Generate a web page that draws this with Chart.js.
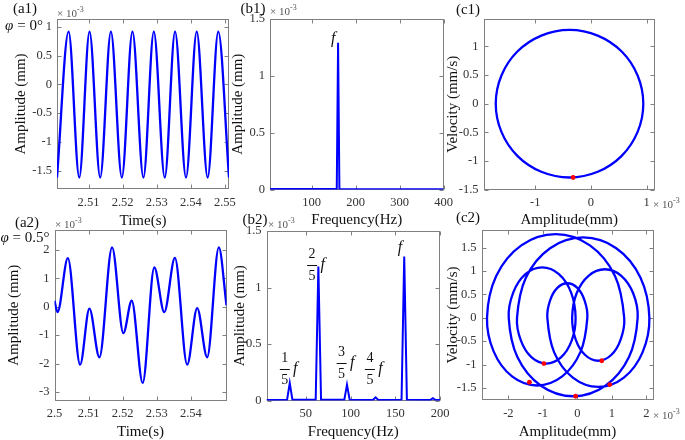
<!DOCTYPE html>
<html>
<head>
<meta charset="utf-8">
<script src="https://cdn.jsdelivr.net/npm/chart.js@4.4.1/dist/chart.umd.min.js"></script>
<style>
body{margin:0;background:#fff}
#fig{position:relative;width:685px;height:440px;overflow:hidden;font-family:"Liberation Serif",serif;color:#111}
#fig div{position:absolute}
.lb{font-size:15px;line-height:1;white-space:nowrap;transform:translate(-50%,-50%)}
.ex{font-size:11px;line-height:1;white-space:nowrap;color:#555;transform:translateY(-50%)}
.ex sup{font-size:8px;vertical-align:5px}
</style>
</head>
<body>
<div id="fig"></div>
<script>
// (a1) time signal, phi = 0 : extrema (x1e-3 mm)
const A1_T = [2.50075, 2.50415, 2.50728, 2.51029, 2.51342, 2.51656, 2.51977, 2.52288, 2.52610, 2.52915, 2.53236, 2.53538, 2.53859, 2.54173, 2.54494, 2.54805, 2.55120]
const A1_Y = [-1.62, 0.92, -1.62, 0.92, -1.62, 0.92, -1.62, 0.92, -1.62, 0.92, -1.62, 0.92, -1.62, 0.92, -1.62, 0.92, -1.62]
const A1_XTICKS = [2.51, 2.52, 2.53, 2.54, 2.55]
const A1_YTICKS = [-1.5, -1, -0.5, 0, 0.5, 1]

// (b1) spectrum
const B1_F = [5, 157, 160, 163, 400]
const B1_A = [0.004, 0.005, 1.29, 0.005, 0.003]
const B1_XTICKS = [100, 200, 300, 400]
const B1_YTICKS = [0, 0.5, 1, 1.5]

// (c1) phase portrait
const C1_X = [0.94, 0.552, -0.385, -1.322, -1.71, -1.322, -0.385, 0.552]
const C1_V = [0, 0.912, 1.29, 0.912, 0, -0.912, -1.29, -0.912]
const C1_PX = [-0.32]
const C1_PV = [-1.29]
const C1_XTICKS = [-1, 0, 1]
const C1_YTICKS = [-1.5, -1, -0.5, 0, 0.5, 1]

// (a2) time signal, phi = 0.5
const A2_T = [2.5, 2.50088, 2.50392, 2.50752, 2.51024, 2.51317, 2.51689, 2.5202, 2.52265, 2.52587, 2.52927, 2.5322, 2.53532, 2.53892, 2.54185, 2.54478, 2.5482, 2.55045]
const A2_Y = [0.21, -0.19, 1.71, -2.04, -0.07, -1.78, 2.09, -0.93, 0.21, -2.68, 1.38, -0.19, 1.72, -2.04, -0.05, -1.78, 2.09, 0.05]
const A2_XTICKS = [2.5, 2.51, 2.52, 2.53, 2.54]
const A2_YTICKS = [-3, -2, -1, 0, 1, 2]

// (b2) spectrum
const B2_F = [6, 29, 32, 35, 61, 64, 67, 93, 96, 99, 125, 128, 131, 157, 160, 163, 189, 192, 195, 200]
const B2_A = [0.004, 0.006, 0.155, 0.006, 0.006, 1.185, 0.006, 0.006, 0.14, 0.006, 0.004, 0.028, 0.004, 0.006, 1.275, 0.006, 0.004, 0.02, 0.004, 0.004]
const B2_XTICKS = [50, 100, 150, 200]
const B2_YTICKS = [0, 0.5, 1, 1.5]

// (c2) phase portrait, one closed orbit: turning points and points along each half loop
const C2_X = [
	-0.15, -0.023, 0.325, 0.80, 1.275, 1.623,
	1.75, 1.499, 0.815, -0.12, -1.055, -1.739,
	-1.99, -1.860, -1.505, -1.02, -0.535, -0.180,
	-0.05, -0.164, -0.475, -0.90, -1.325, -1.636,
	-1.75, -1.493, -0.79, 0.17, 1.13, 1.833,
	2.09, 1.892, 1.35, 0.61, -0.13, -0.672,
	-0.87, -0.792, -0.58, -0.29, 0.0, 0.212,
	0.29, 0.095, -0.438, -1.165, -1.893, -2.425,
	-2.62, -2.353, -1.625, -0.63, 0.365, 1.093,
	1.36, 1.259, 0.983, 0.605, 0.228, -0.049]
const C2_V = [
	0, 0.52, 0.90, 1.04, 0.90, 0.52,
	0, -0.84, -1.455, -1.68, -1.455, -0.84,
	0, 0.54, 0.935, 1.08, 0.935, 0.54,
	0, -0.49, -0.849, -0.98, -0.849, -0.49,
	0, 0.86, 1.49, 1.72, 1.49, 0.86,
	0, -0.74, -1.282, -1.48, -1.282, -0.74,
	0, 0.37, 0.641, 0.74, 0.641, 0.37,
	0, -0.725, -1.256, -1.45, -1.256, -0.725,
	0, 0.895, 1.55, 1.79, 1.55, 0.895,
	0, -0.46, -0.797, -0.92, -0.797, -0.46]
const C2_PX = [-0.97, 0.71, -1.39, 0.94, -0.05]
const C2_PV = [-0.98, -0.92, -1.38, -1.43, -1.68]
const C2_XTICKS = [-2, -1, 0, 1, 2]
const C2_YTICKS = [-1.5, -1, -0.5, 0, 0.5, 1, 1.5]

const SERIF = '"Liberation Serif", "Times New Roman", serif'
const BLUE = '#0000ff'
const fig = document.getElementById('fig')

const el = o => {
	const e = document.createElement(o.a)
	if (o.c) e.innerHTML = o.c
	for (const k in (o.d || {})) e.setAttribute(k, o.d[k])
	;(o.b || document.body).appendChild(e)
	return e
}

const pts = (xs, ys) => xs.map((v, i) => ({x: v, y: ys[i]}))

const wave = (xs, ys) => ({data: pts(xs, ys), showLine: true, borderColor: BLUE, borderWidth: 2.3, pointRadius: 0, cubicInterpolationMode: 'monotone'})
const spec = (xs, ys) => ({data: pts(xs, ys), showLine: true, borderColor: BLUE, borderWidth: 2, pointRadius: 0, tension: 0})
const dots = (xs, ys) => ({data: pts(xs, ys), showLine: false, pointRadius: 2.4, pointBackgroundColor: '#ff0000', pointBorderWidth: 0})
const loop = (xs, ys, t) => {
	const p = pts(xs, ys), n = p.length
	return {
		data: [p[n - 1], ...p, p[0], p[1]], showLine: true, tension: t, borderColor: BLUE, borderWidth: 2.3, pointRadius: 0,
		segment: {borderColor: s => (s.p0DataIndex === 0 || s.p1DataIndex === n + 2) ? 'rgba(0,0,0,0)' : undefined}
	}
}

// MATLAB style box with inward ticks on all four sides
const frame = {
	id: 'frame',
	beforeDatasetsDraw(ch) {
		const {ctx, chartArea: a, scales: {x, y}} = ch
		const l = Math.round(a.left) + .5, r = Math.round(a.right) - .5, t = Math.round(a.top) + .5, b = Math.round(a.bottom) - .5
		ctx.save()
		ctx.strokeStyle = '#808080'
		ctx.lineWidth = 1
		ctx.strokeRect(l, t, r - l, b - t)
		ctx.beginPath()
		x.ticks.forEach(k => { const p = Math.round(x.getPixelForValue(k.value)) + .5; ctx.moveTo(p, b); ctx.lineTo(p, b - 4); ctx.moveTo(p, t); ctx.lineTo(p, t + 4) })
		y.ticks.forEach(k => { const p = Math.round(y.getPixelForValue(k.value)) + .5; ctx.moveTo(l, p); ctx.lineTo(l + 4, p); ctx.moveTo(r, p); ctx.lineTo(r - 4, p) })
		ctx.stroke()
		ctx.restore()
	}
}

// peak labels like 2/5 f
const fracs = items => ({
	id: 'fracs',
	afterDraw(ch) {
		const {ctx, scales: {x, y}} = ch
		ctx.save()
		ctx.fillStyle = '#111'
		ctx.strokeStyle = '#111'
		ctx.textAlign = 'center'
		ctx.textBaseline = 'middle'
		items.forEach(it => {
			const px = x.getPixelForValue(it.x), py = y.getPixelForValue(it.y)
			if (it.n) {
				ctx.font = '14px ' + SERIF
				ctx.fillText(it.n, px, py - 10.5)
				ctx.fillText(it.d, px, py + 11.5)
				ctx.lineWidth = 1
				ctx.beginPath(); ctx.moveTo(px - 5, Math.round(py) + .5); ctx.lineTo(px + 5, Math.round(py) + .5); ctx.stroke()
				ctx.font = 'italic 16px ' + SERIF
				ctx.fillText('f', px + 10.5, py)
			} else {
				ctx.font = 'italic 16px ' + SERIF
				ctx.fillText('f', px, py)
			}
		})
		ctx.restore()
	}
})

const axis = (min, max, ticks, title, fit) => ({
	type: 'linear', min, max,
	afterBuildTicks: s => { s.ticks = ticks.map(v => ({value: v})) },
	afterFit: fit,
	grid: {display: false, drawTicks: false},
	border: {display: false},
	ticks: {autoSkip: false, maxRotation: 0, minRotation: 0, padding: 5, color: '#333', font: {family: SERIF, size: 12.5}, callback: v => String(v)},
	title: {display: true, text: title, color: '#111', font: {family: SERIF, size: 15, lineHeight: 1}, padding: 0}
})

const panel = p => {
	const [L, T, R, B] = p.area
	const x0 = Math.round(p.yTitle - 7.5), y0 = Math.round(T - 14)
	const x1 = Math.round(R + 22), y1 = Math.min(440, Math.round(p.xTitle + 7.5))
	const d = el({a: 'div', b: fig, d: {style: `left:${x0}px;top:${y0}px;width:${x1 - x0}px;height:${y1 - y0}px`}})
	const c = el({a: 'canvas', b: d, d: {width: x1 - x0, height: y1 - y0}})
	const xs = axis(p.x[0], p.x[1], p.x[2], p.x[3], s => { s.height = y1 - B })
	xs.ticks.padding = 6
	const ys = axis(p.y[0], p.y[1], p.y[2], p.y[3], s => { s.width = L - x0 })
	return new Chart(c, {
		type: 'scatter',
		data: {datasets: p.sets},
		options: {
			responsive: false, animation: false,
			layout: {padding: {top: T - y0, right: x1 - R, left: 0, bottom: 0}},
			plugins: {legend: {display: false}, tooltip: {enabled: false}},
			scales: {x: xs, y: ys}
		},
		plugins: [frame].concat(p.labels ? [fracs(p.labels)] : [])
	})
}

panel({area: [57, 19, 229, 189], yTitle: 21.5, xTitle: 221.5,
	x: [2.50075, 2.5512, A1_XTICKS, 'Time(s)'], y: [-1.82, 1.14, A1_YTICKS, 'Amplitude (mm)'],
	sets: [wave(A1_T, A1_Y)]})

panel({area: [270, 19, 443.5, 189.5], yTitle: 238, xTitle: 220.5,
	x: [5, 400, B1_XTICKS, 'Frequency(Hz)'], y: [0, 1.5, B1_YTICKS, 'Amplitude (mm)'],
	sets: [spec(B1_F, B1_A)], labels: [{x: 149, y: 1.33}]})

panel({area: [483.5, 19, 655, 189.5], yTitle: 453, xTitle: 220.5,
	x: [-1.93, 1.15, C1_XTICKS, 'Amplitude(mm)'], y: [-1.5, 1.48, C1_YTICKS, 'Velocity (mm/s)'],
	sets: [dots(C1_PX, C1_PV), loop(C1_X, C1_V, 0.37)]})

panel({area: [54.5, 230, 226.5, 400.5], yTitle: 14, xTitle: 432,
	x: [2.5, 2.55045, A2_XTICKS, 'Time(s)'], y: [-3.3, 2.7, A2_YTICKS, 'Amplitude (mm)'],
	sets: [wave(A2_T, A2_Y)]})

panel({area: [266.5, 231, 440, 400.5], yTitle: 240, xTitle: 432,
	x: [6, 200, B2_XTICKS, 'Frequency(Hz)'], y: [0, 1.5, B2_YTICKS, 'Amplitude (mm)'],
	sets: [spec(B2_F, B2_A)],
	labels: [{x: 26.5, y: 0.28, n: '1', d: '5'}, {x: 57, y: 1.2, n: '2', d: '5'}, {x: 90, y: 0.33, n: '3', d: '5'}, {x: 121.6, y: 0.28, n: '4', d: '5'}, {x: 155.2, y: 1.35}]})

panel({area: [481.5, 230, 653.5, 400], yTitle: 453, xTitle: 432,
	x: [-2.78, 2.21, C2_XTICKS, 'Amplitude(mm)'], y: [-1.76, 1.88, C2_YTICKS, 'Velocity (mm/s)'],
	sets: [dots(C2_PX, C2_PV), loop(C2_X, C2_V, 0.35)]})

// panel tags, phase labels and exponent notes
;[['(a1)', 25, 8], ['(b1)', 253, 8], ['(c1)', 468, 9], ['(a2)', 27, 222], ['(b2)', 255, 219], ['(c2)', 468, 217],
	['<i>φ</i> = 0°', 24, 25], ['<i>φ</i> = 0.5°', 25, 237]].forEach(([t, x, y]) =>
	el({a: 'div', b: fig, c: t, d: {class: 'lb', style: `left:${x}px;top:${y}px`}}))

;[[57, 12], [270, 10], [55, 223], [268, 223], [653, 203], [653, 414]].forEach(([x, y]) =>
	el({a: 'div', b: fig, c: '× 10<sup>-3</sup>', d: {class: 'ex', style: `left:${x}px;top:${y}px`}}))
</script>
</body>
</html>
